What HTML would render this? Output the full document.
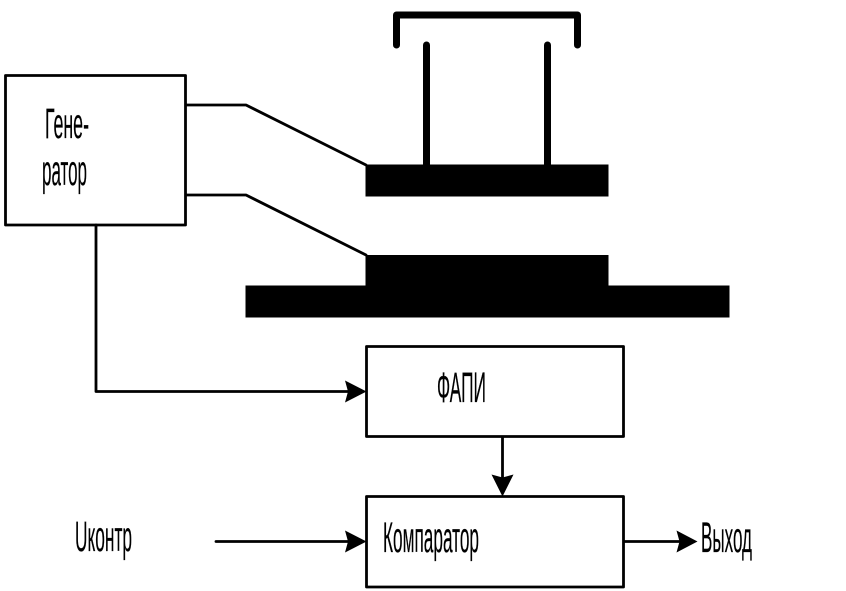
<!DOCTYPE html>
<html>
<head>
<meta charset="utf-8">
<style>
html,body{margin:0;padding:0;background:#fff;width:846px;height:591px;overflow:hidden}
svg{display:block}
text{font-family:"Liberation Sans",sans-serif;font-size:43px;fill:#000;stroke:#000;stroke-width:0.2px}
</style>
</head>
<body>
<svg width="846" height="591" viewBox="0 0 846 591" xmlns="http://www.w3.org/2000/svg">
<g fill="none" stroke="#000" stroke-width="2.8" stroke-linejoin="round" stroke-linecap="round">
<rect x="5.500" y="75.500" width="180" height="149.500"/>
<rect x="366.500" y="346.500" width="257" height="90"/>
<rect x="366.500" y="496.500" width="257" height="90.500"/>
<path d="M186 105H246L366 165"/>
<path d="M186 195H246L366 255"/>
<path d="M96 225V391.500H350"/>
<path d="M502.500 437V478"/>
<path d="M216 541.500H350"/>
<path d="M624 541.500H680"/>
</g>
<g fill="#000">
<path d="M366.500 391.500L345 380.500L348 391.500L345 402.500Z"/>
<path d="M502.500 496.500L491.500 474.500L502.500 477.500L513.500 474.500Z"/>
<path d="M366.500 541.500L345 530.500L348 541.500L345 552.500Z"/>
<path d="M697.500 541.500L676.500 530.500L679.500 541.500L676.500 552.500Z"/>
<rect x="365.500" y="164.500" width="243" height="32"/>
<rect x="365.500" y="255" width="243" height="32"/>
<rect x="245.500" y="285.500" width="484" height="32"/>
</g>
<g fill="none" stroke="#000" stroke-width="7" stroke-linecap="round" stroke-linejoin="round">
<path d="M396.500 45V15H577.500V45"/>
<path d="M426.500 45V165"/>
<path d="M547.500 45V165"/>
</g>
<text x="45" y="138" textLength="44" lengthAdjust="spacingAndGlyphs">Гене-</text>
<text x="42" y="185" textLength="45" lengthAdjust="spacingAndGlyphs">ратор</text>
<text x="437" y="402" textLength="49" lengthAdjust="spacingAndGlyphs">ФАПИ</text>
<text x="383" y="552" textLength="96" lengthAdjust="spacingAndGlyphs">Компаратор</text>
<text x="701" y="552" textLength="51" lengthAdjust="spacingAndGlyphs">Выход</text>
<text x="75" y="551" textLength="57" lengthAdjust="spacingAndGlyphs">Uконтр</text>
</svg>
</body>
</html>
